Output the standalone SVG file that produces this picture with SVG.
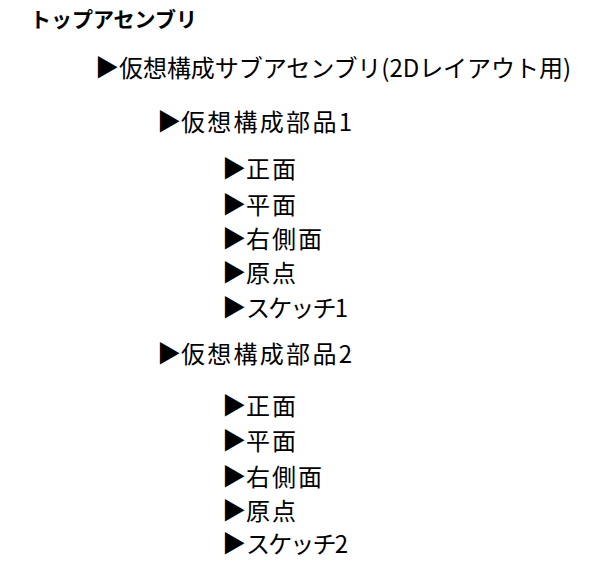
<svg xmlns="http://www.w3.org/2000/svg" width="612" height="575" viewBox="0 0 612 575">
<style>
text{font-family:"Noto Sans CJK JP","Noto Sans",sans-serif;fill:#000;font-size:24px}
.top{font-weight:bold;font-size:21px}
</style>
<rect width="612" height="575" fill="#fff"/>
<g id="top"><text class="top" x="30" y="27">トップアセンブリ</text></g>
<g id="sub"><text x="95" y="76">▶</text><text x="119" y="77" textLength="452">仮想構成サブアセンブリ(2Dレイアウト用)</text></g>
<g id="part1">
<g id="p1"><text x="157" y="130">▶</text><text x="181" y="131" textLength="171">仮想構成部品1</text></g>
<g id="p1-front"><text x="222" y="177">▶</text><text x="246" y="178" textLength="50">正面</text></g>
<g id="p1-top"><text x="222" y="213">▶</text><text x="246" y="214" textLength="50">平面</text></g>
<g id="p1-right"><text x="222" y="247">▶</text><text x="246" y="248" textLength="76">右側面</text></g>
<g id="p1-origin"><text x="222" y="281">▶</text><text x="246" y="282" textLength="50">原点</text></g>
<g id="p1-sketch"><text x="222" y="316">▶</text><text x="246" y="317" textLength="102">スケッチ1</text></g>
</g>
<g id="part2">
<g id="p2"><text x="157" y="362">▶</text><text x="181" y="363" textLength="171">仮想構成部品2</text></g>
<g id="p2-front"><text x="222" y="414">▶</text><text x="246" y="415" textLength="50">正面</text></g>
<g id="p2-top"><text x="222" y="449">▶</text><text x="246" y="450" textLength="50">平面</text></g>
<g id="p2-right"><text x="222" y="485">▶</text><text x="246" y="486" textLength="76">右側面</text></g>
<g id="p2-origin"><text x="222" y="519">▶</text><text x="246" y="520" textLength="50">原点</text></g>
<g id="p2-sketch"><text x="222" y="552">▶</text><text x="246" y="553" textLength="102">スケッチ2</text></g>
</g>
<g id="connectors"></g>
</svg>
